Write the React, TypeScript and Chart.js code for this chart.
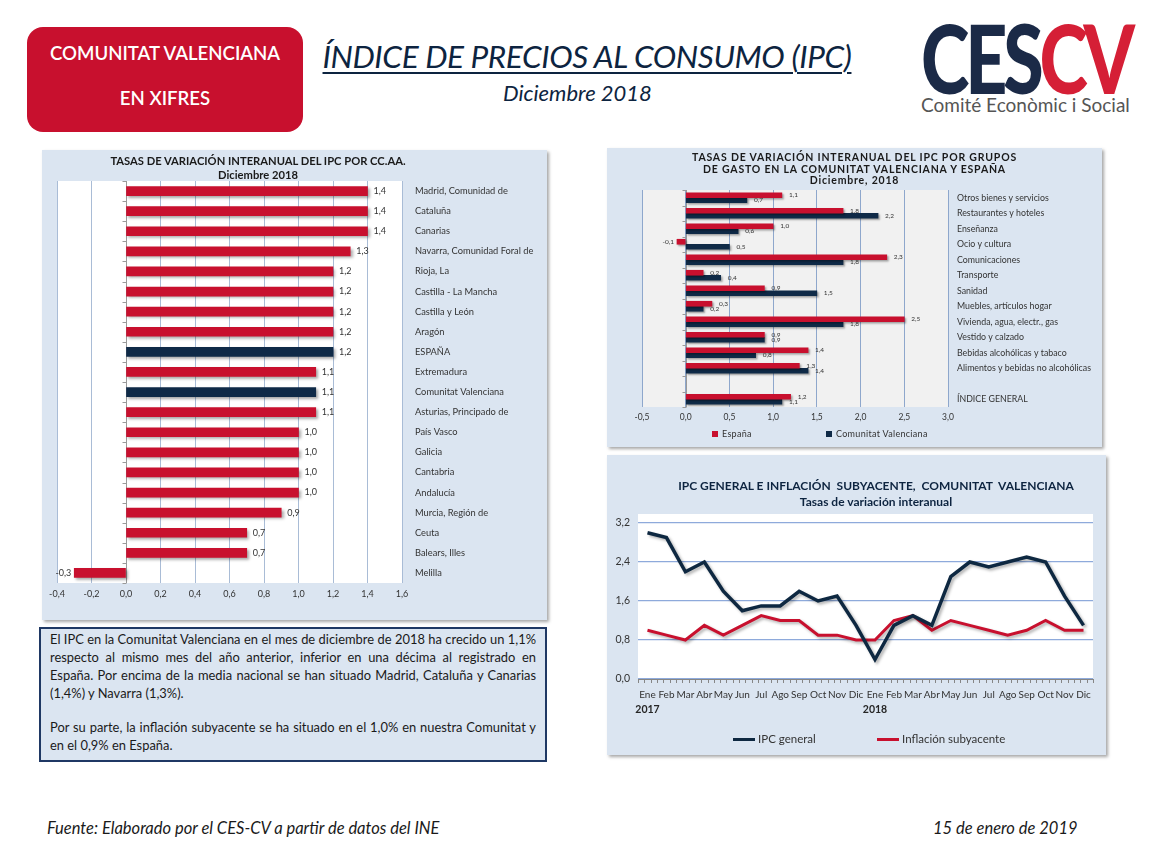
import React, { useEffect, useRef } from 'react';
import { Chart, registerables } from 'chart.js';

Chart.register(...registerables);

// ---------- DATA ----------
const ccaaLabels = [
  'Madrid, Comunidad de', 'Cataluña', 'Canarias', 'Navarra, Comunidad Foral de', 'Rioja, La',
  'Castilla - La Mancha', 'Castilla y León', 'Aragón', 'ESPAÑA', 'Extremadura',
  'Comunitat Valenciana', 'Asturias, Principado de', 'País Vasco', 'Galicia', 'Cantabria',
  'Andalucía', 'Murcia, Región de', 'Ceuta', 'Balears, Illes', 'Melilla',
];
const ccaaValues = [1.4, 1.4, 1.4, 1.3, 1.2, 1.2, 1.2, 1.2, 1.2, 1.1, 1.1, 1.1, 1.0, 1.0, 1.0, 1.0, 0.9, 0.7, 0.7, -0.3];
const ccaaHighlighted = ['ESPAÑA', 'Comunitat Valenciana'];
const ccaaAxisMin = -0.4;
const ccaaAxisMax = 1.6;
const ccaaAxisStep = 0.2;

const gruposLabels = [
  'Otros bienes y servicios', 'Restaurantes y hoteles', 'Enseñanza', 'Ocio y cultura',
  'Comunicaciones', 'Transporte', 'Sanidad', 'Muebles, artículos hogar',
  'Vivienda, agua, electr., gas', 'Vestido y calzado', 'Bebidas alcohólicas y tabaco',
  'Alimentos y bebidas no alcohólicas', '', 'ÍNDICE GENERAL',
];
const espanaValues = [1.1, 1.8, 1.0, -0.1, 2.3, 0.2, 0.9, 0.3, 2.5, 0.9, 1.4, 1.3, null, 1.2];
const cvValues = [0.7, 2.2, 0.6, 0.5, 1.8, 0.4, 1.5, 0.2, 1.8, 0.9, 0.8, 1.4, null, 1.1];
const gruposSeriesNames = ['España', 'Comunitat Valenciana'];
const gruposAxisMin = -0.5;
const gruposAxisMax = 3.0;
const gruposAxisStep = 0.5;

const monthLabels = [
  'Ene', 'Feb', 'Mar', 'Abr', 'May', 'Jun', 'Jul', 'Ago', 'Sep', 'Oct', 'Nov', 'Dic',
  'Ene', 'Feb', 'Mar', 'Abr', 'May', 'Jun', 'Jul', 'Ago', 'Sep', 'Oct', 'Nov', 'Dic',
];
const yearLabels = ['2017', '', '', '', '', '', '', '', '', '', '', '', '2018', '', '', '', '', '', '', '', '', '', '', ''];
const ipcGeneral = [3.0, 2.9, 2.2, 2.4, 1.8, 1.4, 1.5, 1.5, 1.8, 1.6, 1.7, 1.1, 0.4, 1.1, 1.3, 1.1, 2.1, 2.4, 2.3, 2.4, 2.5, 2.4, 1.7, 1.1];
const inflacionSubyacente = [1.0, 0.9, 0.8, 1.1, 0.9, 1.1, 1.3, 1.2, 1.2, 0.9, 0.9, 0.8, 0.8, 1.2, 1.3, 1.0, 1.2, 1.1, 1.0, 0.9, 1.0, 1.2, 1.0, 1.0];
const lineSeriesNames = ['IPC general', 'Inflación subyacente'];
const lineAxisMin = 0;
const lineAxisMax = 3.2;
const lineAxisStep = 0.8;

// ---------- STYLE ----------
const RED = '#c8102e';
const NAVY = '#0f2a47';
const PANEL = '#dbe5f1';
const FONT = 'Lato, "Open Sans", sans-serif';

const fmt = (v: number) => Number(v).toFixed(1).replace('.', ',');

const plotBg = (color: string, extendTop = 0) => ({
  id: 'plotBg',
  beforeDraw(chart: any) {
    const { ctx, chartArea: a } = chart;
    ctx.save();
    ctx.fillStyle = color;
    ctx.fillRect(a.left, a.top - extendTop, a.right - a.left, a.bottom - a.top + extendTop);
    ctx.restore();
  },
});

const shadow = (blur: number, off: number, color: string) => ({
  id: 'shadow',
  beforeDatasetsDraw(chart: any) {
    const c = chart.ctx;
    c.save();
    c.shadowColor = color;
    c.shadowBlur = blur;
    c.shadowOffsetX = off;
    c.shadowOffsetY = off;
  },
  afterDatasetsDraw(chart: any) {
    chart.ctx.restore();
  },
});

const zeroAxis = (color: string, n: number) => ({
  id: 'zeroAxis',
  beforeDatasetsDraw(chart: any) {
    const { ctx, chartArea: a, scales } = chart;
    const x0 = Math.round(scales.x.getPixelForValue(0)) + 0.5;
    ctx.save();
    ctx.strokeStyle = color;
    ctx.lineWidth = 1;
    ctx.beginPath();
    ctx.moveTo(x0, a.top);
    ctx.lineTo(x0, a.bottom);
    const sp = (a.bottom - a.top) / n;
    for (let k = 0; k <= n; k++) {
      const y = Math.round(a.top + k * sp) + 0.5;
      ctx.moveTo(x0 - 4, y);
      ctx.lineTo(x0, y);
    }
    ctx.stroke();
    ctx.restore();
  },
});

const valueLabels = (font: string, color: string, offPos: number, offNeg: number) => ({
  id: 'valueLabels',
  afterDatasetsDraw(chart: any) {
    const ctx = chart.ctx;
    ctx.save();
    ctx.font = font;
    ctx.fillStyle = color;
    ctx.textBaseline = 'middle';
    chart.data.datasets.forEach((ds: any, di: number) => {
      const meta = chart.getDatasetMeta(di);
      meta.data.forEach((el: any, i: number) => {
        const v = ds.data[i];
        if (v == null) return;
        const neg = v < 0;
        ctx.textAlign = neg ? 'right' : 'left';
        ctx.fillText(fmt(v), el.x + (neg ? -offNeg : offPos), el.y);
      });
    });
    ctx.restore();
  },
});

const lineExtras = {
  id: 'lineExtras',
  afterDraw(chart: any) {
    const { ctx, chartArea: a, scales } = chart;
    const xs = scales.x;
    const n = monthLabels.length;
    const step = (a.right - a.left) / n;
    ctx.save();
    ctx.strokeStyle = '#868686';
    ctx.lineWidth = 1;
    ctx.beginPath();
    for (let k = 0; k <= n * 3; k++) {
      const x = Math.round(a.left + (k * step) / 3) + 0.5;
      ctx.moveTo(x, a.bottom);
      ctx.lineTo(x, a.bottom + 4);
    }
    ctx.stroke();
    ctx.font = `bold 10.5px ${FONT}`;
    ctx.fillStyle = '#262626';
    ctx.textAlign = 'center';
    ctx.textBaseline = 'middle';
    yearLabels.forEach((t, i) => {
      if (!t) return;
      ctx.fillText(t, xs.getPixelForValue(i), a.bottom + 31);
    });
    ctx.restore();
  },
};

export default function App() {
  const c1 = useRef<HTMLCanvasElement>(null);
  const c2 = useRef<HTMLCanvasElement>(null);
  const c3 = useRef<HTMLCanvasElement>(null);

  useEffect(() => {
    const charts: Chart[] = [];

    // ---- Chart 1: CC.AA. ----
    charts.push(
      new Chart(c1.current as HTMLCanvasElement, {
        type: 'bar',
        data: {
          labels: ccaaLabels,
          datasets: [
            {
              data: ccaaValues,
              backgroundColor: ccaaLabels.map((l) => (ccaaHighlighted.includes(l) ? NAVY : RED)),
              barThickness: 9,
            },
          ],
        },
        options: {
          indexAxis: 'y',
          animation: false,
          responsive: false,
          maintainAspectRatio: false,
          layout: { padding: { left: 15, top: 31, bottom: 17, right: 0 } },
          plugins: { legend: { display: false }, tooltip: { enabled: false }, title: { display: false } },
          scales: {
            x: {
              min: ccaaAxisMin,
              max: ccaaAxisMax,
              ticks: { stepSize: ccaaAxisStep, callback: (v: any) => fmt(v), font: { family: FONT, size: 9 }, color: '#333', padding: 6 },
              grid: { color: '#a9bcd6', drawTicks: false },
              border: { display: false },
              afterFit: (s: any) => { s.height = 20; },
            },
            y: {
              position: 'right',
              grid: { display: false, drawTicks: false },
              border: { display: false },
              ticks: { padding: 13, font: { family: FONT, size: 9.3 }, color: '#333', crossAlign: 'near' },
              afterFit: (s: any) => { s.width = 145; },
            },
          },
        } as any,
        plugins: [plotBg('#ffffff'), zeroAxis('#9a9a9a', ccaaLabels.length), shadow(3, 2, 'rgba(0,0,0,0.35)'), valueLabels(`9px ${FONT}`, '#333', 6, 3)],
      })
    );

    // ---- Chart 2: grupos ----
    charts.push(
      new Chart(c2.current as HTMLCanvasElement, {
        type: 'bar',
        data: {
          labels: gruposLabels,
          datasets: [
            { label: gruposSeriesNames[0], data: espanaValues, backgroundColor: RED, barThickness: 5 },
            { label: gruposSeriesNames[1], data: cvValues, backgroundColor: NAVY, barThickness: 5 },
          ],
        },
        options: {
          indexAxis: 'y',
          animation: false,
          responsive: false,
          maintainAspectRatio: false,
          layout: { padding: { left: 35, top: 42, bottom: 24, right: 0 } },
          plugins: { legend: { display: false }, tooltip: { enabled: false } },
          datasets: { bar: { categoryPercentage: 0.66, barPercentage: 1 } },
          scales: {
            x: {
              min: gruposAxisMin,
              max: gruposAxisMax,
              ticks: { stepSize: gruposAxisStep, callback: (v: any) => fmt(v), font: { family: FONT, size: 8.5 }, color: '#333', padding: 5 },
              grid: { color: '#8ea7cc', drawTicks: false },
              border: { display: false },
              afterFit: (s: any) => { s.height = 16; },
            },
            y: {
              position: 'right',
              grid: { display: false, drawTicks: false },
              border: { display: false },
              ticks: { padding: 9, font: { family: FONT, size: 8.8 }, color: '#333', crossAlign: 'near', autoSkip: false },
              afterFit: (s: any) => { s.width = 154; },
            },
          },
        } as any,
        plugins: [plotBg('#f1f1f1'), zeroAxis('#9a9a9a', gruposLabels.length), shadow(2, 1.5, 'rgba(0,0,0,0.35)'), valueLabels(`6.5px ${FONT}`, '#333', 7, 3)],
      })
    );

    // ---- Chart 3: lines ----
    charts.push(
      new Chart(c3.current as HTMLCanvasElement, {
        type: 'line',
        data: {
          labels: monthLabels,
          datasets: [
            { label: lineSeriesNames[0], data: ipcGeneral, borderColor: '#0e2841', borderWidth: 3.5, pointRadius: 0, tension: 0, fill: false },
            { label: lineSeriesNames[1], data: inflacionSubyacente, borderColor: '#c8102e', borderWidth: 3, pointRadius: 0, tension: 0, fill: false },
          ],
        },
        options: {
          animation: false,
          responsive: false,
          maintainAspectRatio: false,
          layout: { padding: { left: 0, top: 68, bottom: 46, right: 13 } },
          plugins: { legend: { display: false }, tooltip: { enabled: false } },
          scales: {
            x: {
              offset: true,
              grid: { display: false, drawTicks: false },
              border: { display: true, color: '#868686', width: 1 },
              ticks: { padding: 10, font: { family: FONT, size: 10 }, color: '#333', autoSkip: false, maxRotation: 0 },
              afterFit: (s: any) => { s.height = 30; },
            },
            y: {
              min: lineAxisMin,
              max: lineAxisMax,
              ticks: { stepSize: lineAxisStep, callback: (v: any) => fmt(v), font: { family: FONT, size: 10.5 }, color: '#333', padding: 8 },
              grid: { color: '#8eaadb', lineWidth: 1.2, drawTicks: false },
              border: { display: false },
              afterFit: (s: any) => { s.width = 31; },
            },
          },
        } as any,
        plugins: [plotBg('#ffffff', 9), shadow(3, 2, 'rgba(0,0,0,0.3)'), lineExtras],
      })
    );

    return () => charts.forEach((c) => c.destroy());
  }, []);

  const abs = (x: number, y: number, w?: number, h?: number): React.CSSProperties => ({
    position: 'absolute', left: x, top: y, width: w, height: h,
  });
  const panelStyle = (x: number, y: number, w: number, h: number): React.CSSProperties => ({
    ...abs(x, y, w, h), background: PANEL, boxShadow: '2px 2px 3px rgba(0,0,0,0.35)',
  });

  return (
    <div style={{ position: 'absolute', left: 0, top: 0, width: 1158, height: 867, background: '#fff', fontFamily: FONT, overflow: 'hidden' }}>
      {/* Header red box */}
      <div style={{ ...abs(27, 27, 276, 105), background: RED, borderRadius: 16, color: '#fff', textAlign: 'center', fontSize: 18.6, fontWeight: 600 }}>
        <div style={{ position: 'absolute', left: 0, right: 0, top: 15, lineHeight: '22px' }}>COMUNITAT VALENCIANA</div>
        <div style={{ position: 'absolute', left: 0, right: 0, top: 60, lineHeight: '22px' }}>EN XIFRES</div>
      </div>

      {/* Title */}
      <div style={{ ...abs(297, 38, 580), textAlign: 'center', color: '#0d2440', fontStyle: 'italic', fontSize: 31.5, lineHeight: '36px', whiteSpace: 'nowrap' }}>
        <span style={{ textDecoration: 'underline', textDecorationThickness: 2, textUnderlineOffset: 4, letterSpacing: -0.4 }}>ÍNDICE DE PRECIOS AL CONSUMO (IPC)</span>
      </div>
      <div style={{ ...abs(400, 80, 355), textAlign: 'center', color: '#0d2440', fontStyle: 'italic', fontSize: 22, lineHeight: '26px' }}>Diciembre 2018</div>

      {/* Logo */}
      <div style={{ ...abs(921, 9, 216, 96), overflow: 'visible', whiteSpace: 'nowrap' }}>
        <div style={{ fontSize: 96, fontWeight: 900, lineHeight: '96px', letterSpacing: -5.5, transform: 'scaleX(0.765)', transformOrigin: 'left top' }}>
          <span style={{ color: '#1b2a47' }}>CES</span><span style={{ color: '#d51f36' }}>CV</span>
        </div>
      </div>
      <div style={{ ...abs(921, 94, 216), color: '#555', fontSize: 19, lineHeight: '22px', whiteSpace: 'nowrap' }}>Comité Econòmic i Social</div>

      {/* Left panel */}
      <div style={panelStyle(42, 150, 505, 470)}>
        <canvas ref={c1} width={505} height={470} style={{ display: 'block', width: 505, height: 470 }} />
        <div style={{ ...abs(0, 4, 432), textAlign: 'center', fontWeight: 700, fontSize: 11.2, lineHeight: '14px', color: '#1a1a1a' }}>
          TASAS DE VARIACIÓN INTERANUAL DEL IPC POR CC.AA.<br />Diciembre 2018
        </div>
      </div>

      {/* Right top panel */}
      <div style={panelStyle(607, 148, 495, 299)}>
        <canvas ref={c2} width={495} height={299} style={{ display: 'block', width: 495, height: 299 }} />
        <div style={{ ...abs(0, 4, 495), textAlign: 'center', fontWeight: 700, fontSize: 10.5, lineHeight: '11.5px', color: '#1a1a1a', letterSpacing: 0.8 }}>
          TASAS DE VARIACIÓN INTERANUAL DEL IPC POR GRUPOS<br />DE GASTO EN LA COMUNITAT VALENCIANA Y ESPAÑA<br />Diciembre, 2018
        </div>
        <div style={{ ...abs(105, 281, 120), fontSize: 9, lineHeight: '10px', color: '#333', display: 'flex', alignItems: 'center', letterSpacing: 0.3 }}>
          <span style={{ display: 'inline-block', width: 6, height: 6, background: RED, marginRight: 4 }} />{gruposSeriesNames[0]}
        </div>
        <div style={{ ...abs(219, 281, 160), fontSize: 9, lineHeight: '10px', color: '#333', display: 'flex', alignItems: 'center', letterSpacing: 0.3 }}>
          <span style={{ display: 'inline-block', width: 6, height: 6, background: NAVY, marginRight: 4 }} />{gruposSeriesNames[1]}
        </div>
      </div>

      {/* Right bottom panel */}
      <div style={panelStyle(607, 455, 499, 300)}>
        <canvas ref={c3} width={499} height={300} style={{ display: 'block', width: 499, height: 300 }} />
        <div style={{ ...abs(0, 23, 538), textAlign: 'center', fontWeight: 700, fontSize: 12, lineHeight: '16px', color: '#0d2440', whiteSpace: 'pre' }}>
          {'IPC GENERAL E INFLACIÓN  SUBYACENTE,  COMUNITAT  VALENCIANA\nTasas de variación interanual'}
        </div>
        <div style={{ ...abs(126, 277, 140), fontSize: 11.5, lineHeight: '14px', color: '#333', display: 'flex', alignItems: 'center' }}>
          <span style={{ display: 'inline-block', width: 22, height: 3, background: '#0e2841', marginRight: 3 }} />{lineSeriesNames[0]}
        </div>
        <div style={{ ...abs(270, 277, 180), fontSize: 11.5, lineHeight: '14px', color: '#333', display: 'flex', alignItems: 'center' }}>
          <span style={{ display: 'inline-block', width: 22, height: 3, background: RED, marginRight: 3 }} />{lineSeriesNames[1]}
        </div>
      </div>

      {/* Text box */}
      <div style={{ ...abs(39, 627, 508, 135), boxSizing: 'border-box', border: '2px solid #1f3864', background: PANEL, padding: '1px 9px', fontSize: 12.9, lineHeight: '18px', color: '#1a1a1a', textAlign: 'justify' }}>
        <div>El IPC en la Comunitat Valenciana en el mes de diciembre de 2018 ha crecido un 1,1% respecto al mismo mes del año anterior, inferior en una décima al registrado en España. Por encima de la media nacional se han situado Madrid, Cataluña y Canarias (1,4%) y Navarra (1,3%).</div>
        <div style={{ marginTop: 16 }}>Por su parte, la inflación subyacente se ha situado en el 1,0% en nuestra Comunitat y en el 0,9% en España.</div>
      </div>

      {/* Footer */}
      <div style={{ ...abs(47, 818), fontStyle: 'italic', fontSize: 16.5, color: '#1a1a1a', whiteSpace: 'nowrap' }}>Fuente: Elaborado por el CES-CV a partir de datos del INE</div>
      <div style={{ ...abs(933, 818), fontStyle: 'italic', fontSize: 16.5, color: '#1a1a1a', whiteSpace: 'nowrap' }}>15 de enero de 2019</div>
    </div>
  );
}
